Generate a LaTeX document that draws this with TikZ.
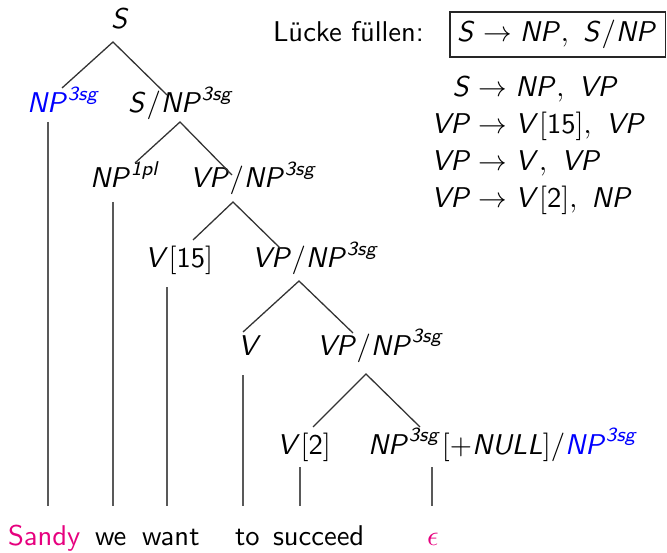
\documentclass[tikz,border=0pt]{standalone}
\usepackage{xcolor}
\DeclareMathAlphabet{\mathsl}{OT1}{cmss}{m}{sl}
\newcommand{\cs}[1]{\mathsl{#1}}
\definecolor{hotpink}{RGB}{230,0,126}
\definecolor{pureblue}{RGB}{0,0,255}
\begin{document}
\begin{tikzpicture}[x=0.35pt,y=-0.35pt,
  lbl/.style={inner sep=0pt,outer sep=0pt,anchor=base west,font=\sffamily},
  lhs/.style={lbl,anchor=base east},
  br/.style={line width=0.45pt,draw=black!80},
  stem/.style={line width=0.45pt,draw=black!65}]
\useasboundingbox (0,0) rectangle (667,552);

% ---- tree labels ----
\node[lbl] (s) at (111,29) {$\cs{S}$};
\node[lbl,text=pureblue] (np3) at (27,113) {$\cs{NP}^{\cs{3sg}}$};
\node[lbl] (snp) at (128,113) {$\cs{S}/\cs{NP}^{\cs{3sg}}$};
\node[lbl] (np1) at (90,188) {$\cs{NP}^{\cs{1pl}}$};
\node[lbl] (vp2) at (190,188) {$\cs{VP}/\cs{NP}^{\cs{3sg}}$};
\node[lbl] (v15) at (145,268) {$\cs{V}[\mathsf{15}]$};
\node[lbl] (vp3) at (252,268) {$\cs{VP}/\cs{NP}^{\cs{3sg}}$};
\node[lbl] (v) at (238,355) {$\cs{V}$};
\node[lbl] (vp4) at (317,355) {$\cs{VP}/\cs{NP}^{\cs{3sg}}$};
\node[lbl] (v2) at (277,454) {$\cs{V}[\mathsf{2}]$};
\node[lbl] (npn) at (368,454) {$\cs{NP}^{\cs{3sg}}[+\cs{NULL}]/\textcolor{pureblue}{\cs{NP}^{\cs{3sg}}}$};

% ---- words ----
\node[lbl,text=hotpink] (w1) at (8,545) {Sandy};
\node[lbl] (w2) at (95,545) {we};
\node[lbl] (w3) at (142,545) {want};
\node[lbl] (w4) at (235,545) {to};
\node[lbl] (w5) at (273,545) {succeed};
\node[lbl,text=hotpink] (w6) at (427,545) {$\epsilon$};

% ---- attachment points ----
\coordinate (s-b) at (113,42);
\coordinate (np3-t) at (62,88);
\coordinate (snp-t) at (167,95);
\coordinate (np3-b) at (48,122);
\coordinate (snp-b) at (180,122);
\coordinate (np1-t) at (135,163);
\coordinate (vp2-t) at (232,175);
\coordinate (np1-b) at (113,202);
\coordinate (vp2-b) at (233,202);
\coordinate (v15-t) at (193,240);
\coordinate (vp3-t) at (280,248);
\coordinate (v15-b) at (167,287);
\coordinate (vp3-b) at (299,281);
\coordinate (v-t) at (243,332);
\coordinate (vp4-t) at (353,333);
\coordinate (v-b) at (243,375);
\coordinate (vp4-b) at (366,374);
\coordinate (v2-t) at (313,427);
\coordinate (npn-t) at (420,427);
\coordinate (v2-b) at (300,467);
\coordinate (npn-b) at (432,467);
\coordinate (w1-t) at (48,506);
\coordinate (w2-t) at (113,506);
\coordinate (w3-t) at (167,506);
\coordinate (w4-t) at (243,506);
\coordinate (w5-t) at (300,506);
\coordinate (w6-t) at (432,506);

% ---- branches ----
\draw[br] (np3-t) -- (s-b) -- (snp-t);
\draw[br] (np1-t) -- (snp-b) -- (vp2-t);
\draw[br] (v15-t) -- (vp2-b) -- (vp3-t);
\draw[br] (v-t) -- (vp3-b) -- (vp4-t);
\draw[br] (v2-t) -- (vp4-b) -- (npn-t);

\draw[stem] (np3-b) -- (w1-t);
\draw[stem] (np1-b) -- (w2-t);
\draw[stem] (v15-b) -- (w3-t);
\draw[stem] (v-b) -- (w4-t);
\draw[stem] (v2-b) -- (w5-t);
\draw[stem] (npn-b) -- (w6-t);

% ---- right panel ----
\node[lbl] (fill) at (273,42) {L\"ucke f\"ullen:};
\node[draw=black!85,line width=0.5pt,inner sep=0pt,outer sep=0pt,anchor=north west,
      minimum width=75.4pt,minimum height=15.75pt] (box) at (450,12) {};
\node[lbl] (boxtext) at (457,42) {$\cs{S} \rightarrow \cs{NP},\ \cs{S}/\cs{NP}$};

\node[lhs] (r1l) at (471,97) {$\cs{S}$};
\node[lbl] (r1r) at (471,97) {${}\rightarrow \cs{NP},\ \cs{VP}$};
\node[lhs] (r2l) at (471,134) {$\cs{VP}$};
\node[lbl] (r2r) at (471,134) {${}\rightarrow \cs{V}[\mathsf{15}],\ \cs{VP}$};
\node[lhs] (r3l) at (471,171) {$\cs{VP}$};
\node[lbl] (r3r) at (471,171) {${}\rightarrow \cs{V},\ \cs{VP}$};
\node[lhs] (r4l) at (471,208) {$\cs{VP}$};
\node[lbl] (r4r) at (471,208) {${}\rightarrow \cs{V}[\mathsf{2}],\ \cs{NP}$};
\end{tikzpicture}
\end{document}
